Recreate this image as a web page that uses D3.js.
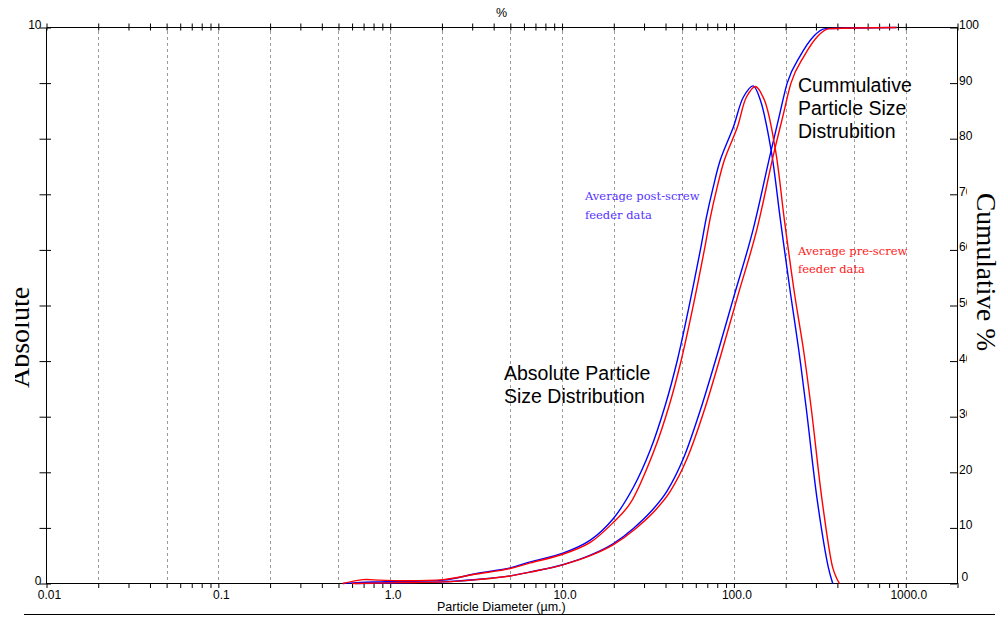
<!DOCTYPE html>
<html>
<head>
<meta charset="utf-8">
<script src="https://cdn.jsdelivr.net/npm/d3@7"></script>
<style>
    body { margin: 0; background: #fff; }
    svg { display: block; font-family: "Liberation Sans", Arial, sans-serif; }
</style>
</head>
<body>
<svg id="chart" width="997" height="618"></svg>
<script>
// Data (size in um, frequency in %, cumulative in %)
const postFreqSize = [0.53, 0.67, 0.87, 1.14, 2.04, 3.19, 4.99, 6.53, 10.2, 14.6, 19.9, 26.1, 32.6, 39.9, 46.9, 54.3, 63.8, 69.2, 75.0, 83.4, 99.3, 113.6, 129.4, 142.6, 164.7, 186.6, 213.3, 238.4, 264.3, 305.4, 353.8, 376];
const postFreq = [0, 0.02, 0.03, 0.04, 0.06, 0.18, 0.28, 0.39, 0.55, 0.78, 1.17, 1.74, 2.40, 3.21, 4.02, 4.92, 6.00, 6.59, 7.07, 7.62, 8.21, 8.75, 8.95, 8.69, 7.79, 6.53, 5.22, 4.20, 3.12, 1.50, 0.30, 0];

const preFreqSize = [0.53, 0.695, 0.87, 1.14, 2.04, 3.19, 4.99, 6.53, 10.2, 14.6, 19.9, 24.9, 34.4, 42.1, 49.4, 57.3, 67.3, 73.0, 79.1, 88.1, 104.8, 118.3, 133.4, 150.6, 174.6, 196.8, 225.1, 254.1, 282.6, 325.8, 374.8, 395.5, 411.4];
const preFreq = [0, 0.07, 0.06, 0.05, 0.07, 0.17, 0.27, 0.37, 0.53, 0.74, 1.10, 1.44, 2.40, 3.21, 4.02, 4.92, 6.00, 6.59, 7.07, 7.62, 8.21, 8.75, 8.94, 8.69, 7.79, 6.53, 5.22, 4.20, 3.12, 1.50, 0.30, 0.10, 0];

const postCumSize = [0.625, 1.14, 2.04, 3.19, 4.99, 6.53, 10.2, 14.6, 19.9, 26.1, 32.6, 40.8, 51.0, 63.8, 79.8, 99.7, 130.4, 164.7, 182.4, 204.1, 244.0, 290.4, 341.2, 884];
const postCum = [0, 0.14, 0.29, 0.72, 1.37, 2.09, 3.42, 5.09, 7.19, 9.95, 12.8, 16.6, 22.6, 31.2, 41.1, 51.5, 64.1, 77.9, 83.7, 90.0, 95.0, 98.4, 99.8, 100];

const preCumSize = [0.6, 1.14, 2.04, 3.19, 4.99, 6.53, 10.2, 14.6, 19.9, 27.0, 34.0, 42.7, 53.6, 67.3, 84.0, 104.8, 137.1, 172.2, 191.5, 214.8, 257.5, 306.4, 359.9, 884];
const preCum = [0, 0.15, 0.3, 0.7, 1.35, 2.05, 3.4, 5.0, 7.0, 9.95, 12.8, 16.6, 22.6, 31.2, 41.1, 51.5, 64.1, 77.9, 83.7, 90.0, 95.0, 98.4, 99.8, 100];

// Axis labels
const xLabelValues = [0.01, 0.1, 1, 10, 100, 1000];
const xLabels = ['0.01', '0.1', '1.0', '10.0', '100.0', '1000.0'];
const gridValues = [0.02, 0.05, 0.1, 0.2, 0.5, 1, 2, 5, 10, 20, 50, 100, 200, 500, 1000];
const leftTicks = [0, 1, 2, 3, 4, 5, 6, 7, 8, 9, 10];
const leftLabels = ['0', '', '', '', '', '', '', '', '', '', '10'];
const rightTicks = [0, 10, 20, 30, 40, 50, 60, 70, 80, 90, 100];

const svg = d3.select('#chart');

const x = d3.scaleLog().domain([0.01, 2000]).range([46.5, 957.5]);
const yL = d3.scaleLinear().domain([0, 10]).range([583.5, 27.5]);
const yR = d3.scaleLinear().domain([0, 100]).range([583.5, 27.5]);

const sameVal = (a, b) => Math.abs(Math.log10(a) - Math.log10(b)) < 1e-6;

// dashed vertical grid
svg.append('g')
    .selectAll('line')
    .data(gridValues)
    .enter()
    .append('line')
    .attr('x1', d => Math.round(x(d)) + 0.5)
    .attr('x2', d => Math.round(x(d)) + 0.5)
    .attr('y1', 31)
    .attr('y2', 583)
    .attr('stroke', '#9a9a9a')
    .attr('stroke-dasharray', '3,3');

// top axis (minor ticks crossing the line)
const gTop = svg.append('g')
    .attr('transform', 'translate(0,27)')
    .call(d3.axisTop(x).tickValues(x.ticks()).tickFormat('').tickSizeOuter(0));
gTop.selectAll('.tick line').attr('y1', 3.5).attr('y2', -3.5);

// bottom axis
const gBot = svg.append('g')
    .attr('transform', 'translate(0,583)')
    .call(d3.axisBottom(x)
        .tickValues(x.ticks())
        .tickSizeOuter(0)
        .tickSizeInner(5)
        .tickFormat(d => {
            const i = xLabelValues.findIndex(v => sameVal(v, d));
            return i >= 0 ? xLabels[i] : '';
        }));
gBot.selectAll('.tick text')
    .attr('y', 16).attr('dy', 0).attr('dx', 2.5)
    .attr('font-size', 12).attr('font-family', '"Liberation Sans", Arial, sans-serif');

// left axis
const gLeft = svg.append('g')
    .attr('transform', 'translate(46,0)')
    .call(d3.axisLeft(yL).tickValues(leftTicks).tickSizeOuter(0)
        .tickFormat((d, i) => leftLabels[i]));
gLeft.selectAll('.tick line').attr('x1', 5).attr('x2', -6.5);
gLeft.selectAll('.tick text')
    .attr('x', -4.5).attr('dy', 0).attr('y', 0.5)
    .attr('font-size', 12).attr('font-family', '"Liberation Sans", Arial, sans-serif');

// right axis
const gRight = svg.append('g')
    .attr('transform', 'translate(957,0)')
    .call(d3.axisRight(yR).tickValues(rightTicks).tickSizeOuter(0));
gRight.selectAll('.tick line').attr('x1', -7).attr('x2', 0);
gRight.selectAll('.tick text')
    .attr('x', d => d === 0 ? 4.5 : 2)
    .attr('dy', 0)
    .attr('y', d => d === 0 ? -3 : 1)
    .attr('font-size', 12).attr('font-family', '"Liberation Sans", Arial, sans-serif');

// curves
const freqLine = d3.line().x(d => x(d[0])).y(d => yL(d[1])).curve(d3.curveCatmullRom.alpha(0.5));
const cumLine = d3.line().x(d => x(d[0])).y(d => yR(d[1])).curve(d3.curveMonotoneX);

const series = [
    { path: cumLine(d3.zip(postCumSize, postCum)), color: '#0000ff' },
    { path: freqLine(d3.zip(postFreqSize, postFreq)), color: '#0000ff' },
    { path: cumLine(d3.zip(preCumSize, preCum)), color: '#ff0000' },
    { path: freqLine(d3.zip(preFreqSize, preFreq)), color: '#ff0000' }
];
svg.append('g')
    .selectAll('path')
    .data(series)
    .enter()
    .append('path')
    .attr('d', d => d.path)
    .attr('fill', 'none')
    .attr('stroke', d => d.color)
    .attr('stroke-width', 1.4);

// axis titles
svg.append('text').attr('x', 501.5).attr('y', 17).attr('text-anchor', 'middle')
    .attr('font-size', 12.5).text('%');
svg.append('text').attr('x', 437).attr('y', 611)
    .attr('font-size', 12.5).text('Particle Diameter (µm.)');
svg.append('line').attr('x1', 24).attr('x2', 995).attr('y1', 614.5).attr('y2', 614.5)
    .attr('stroke', '#000');

// left title, clipped like the original
svg.append('clipPath').attr('id', 'leftClip')
    .append('rect').attr('x', 15).attr('y', 150).attr('width', 25).attr('height', 300);
svg.append('g')
    .attr('clip-path', 'url(#leftClip)')
    .append('text')
    .attr('transform', 'translate(28.5,388) rotate(-90)')
    .attr('font-family', '"Liberation Serif", "Times New Roman", serif')
    .attr('font-size', 28)
    .text('Absolute');

// right title with its white box covering some tick labels
svg.append('rect').attr('x', 967).attr('y', 170).attr('width', 30).attr('height', 270).attr('fill', '#fff');
svg.append('text')
    .attr('transform', 'translate(976.5,193) rotate(90)')
    .attr('font-family', '"Liberation Serif", "Times New Roman", serif')
    .attr('font-size', 27.5)
    .text('Cumulative %');

// annotations
const bigNotes = svg.append('g').attr('font-size', 19.5).attr('fill', '#000');
bigNotes.append('text').attr('x', 798).attr('y', 91.5).text('Cummulative');
bigNotes.append('text').attr('x', 798).attr('y', 115).text('Particle Size');
bigNotes.append('text').attr('x', 798).attr('y', 137.5).text('Distrubition');
bigNotes.append('text').attr('x', 504).attr('y', 380).text('Absolute Particle');
bigNotes.append('text').attr('x', 504).attr('y', 402.5).text('Size Distribution');

const smallNotes = svg.append('g').attr('font-family', '"DejaVu Serif", serif').attr('font-size', 11.5);
smallNotes.append('text').attr('x', 585).attr('y', 200).attr('fill', '#5533ff').text('Average post-screw');
smallNotes.append('text').attr('x', 585).attr('y', 218.5).attr('fill', '#5533ff').text('feeder data');
smallNotes.append('text').attr('x', 798).attr('y', 255).attr('fill', '#ff2020').text('Average pre-screw');
smallNotes.append('text').attr('x', 798).attr('y', 273).attr('fill', '#ff2020').text('feeder data');
</script>
</body>
</html>
